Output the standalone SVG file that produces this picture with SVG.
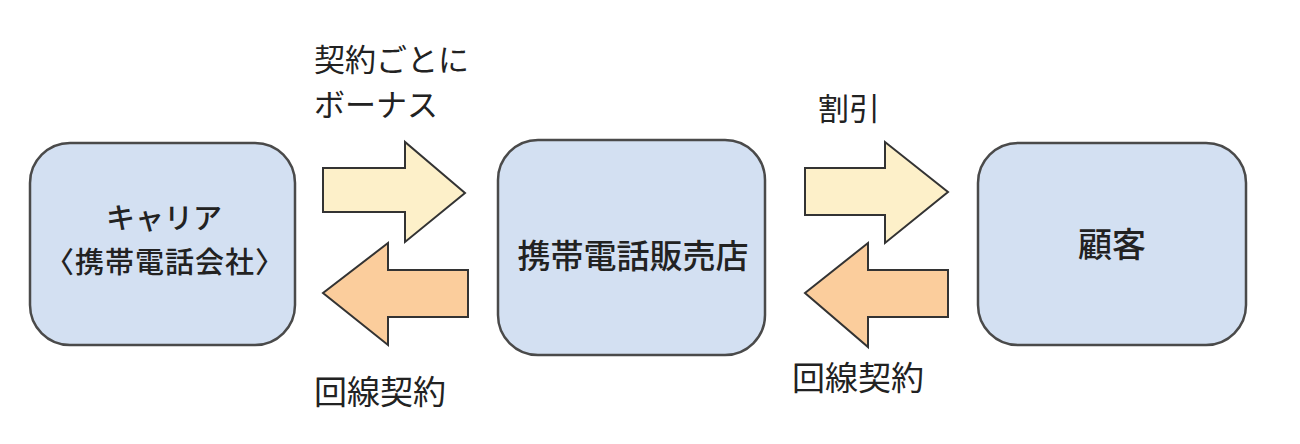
<svg xmlns="http://www.w3.org/2000/svg" width="1300" height="444" viewBox="0 0 1300 444">
<style>
.box{fill:#d3e0f2;stroke:#4a4a4a;stroke-width:2.5}
.fwd{fill:#fdf0c9;stroke:#333;stroke-width:2}
.back{fill:#fbcd9c;stroke:#333;stroke-width:2}
text{font-family:"Noto Sans CJK JP","Noto Sans CJK SC",sans-serif;fill:#222}
.lbl{font-size:31px}
.nt{font-size:32px;text-anchor:middle;font-weight:500}
</style>
<rect width="1300" height="444" fill="#ffffff"/>
<g id="carrier">
<rect class="box" x="30" y="143" width="265" height="202" rx="40"/>
<text class="nt" x="164" y="229" style="font-size:29px">キャリア</text>
<text class="nt" x="165" y="273" style="font-size:29px;letter-spacing:1px">〈携帯電話会社〉</text>
</g>
<g id="shop">
<rect class="box" x="498" y="140" width="267" height="215" rx="40"/>
<text class="nt" x="633" y="268" style="font-size:33px">携帯電話販売店</text>
</g>
<g id="customer">
<rect class="box" x="978" y="143" width="268" height="202" rx="40"/>
<text class="nt" x="1112" y="257" style="font-size:34px">顧客</text>
</g>
<g id="connectors">
<polygon class="fwd" points="323,168 405,168 405,142 465,193 405,242 405,212 323,212"/>
<polygon class="back" points="468,270 388,270 388,243 323,293 388,345 388,317 468,317"/>
<polygon class="fwd" points="805,168 885,168 885,142 948,192 885,243 885,215 805,215"/>
<polygon class="back" points="948,270 868,270 868,243 805,293 868,347 868,317 948,317"/>
</g>
<g id="labels">
<text class="lbl" x="314" y="71">契約ごとに</text>
<text class="lbl" x="314" y="116">ボーナス</text>
<text class="lbl" x="314" y="404" style="font-size:33px">回線契約</text>
<text class="lbl" x="818" y="120">割引</text>
<text class="lbl" x="792" y="390" style="font-size:33px">回線契約</text>
</g>
</svg>
